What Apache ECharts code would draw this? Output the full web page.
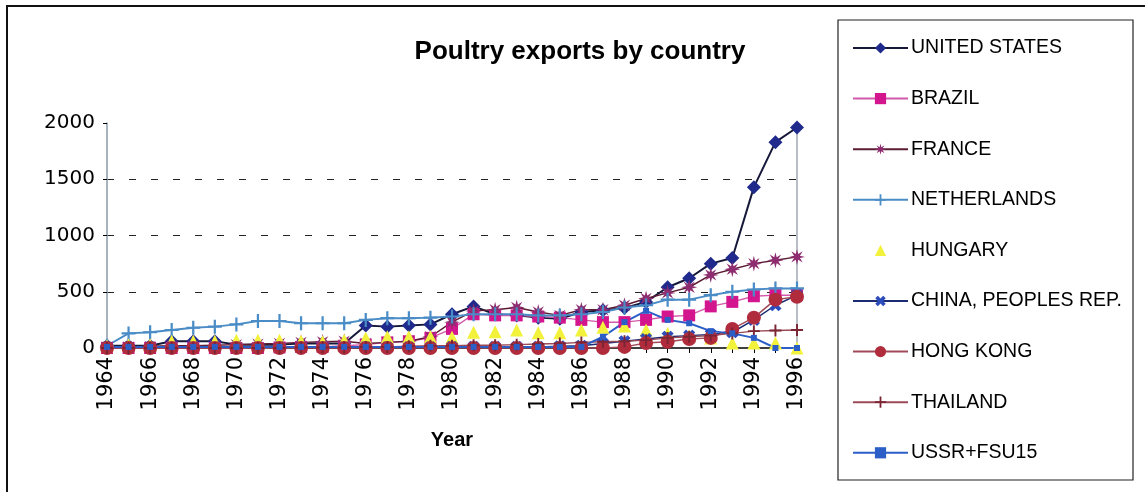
<!DOCTYPE html>
<html>
<head>
<meta charset="utf-8">
<script src="https://cdn.jsdelivr.net/npm/echarts@6/dist/echarts.min.js"></script>
<style>
  html, body { margin: 0; padding: 0; background: #fff; }
  #chart { width: 1145px; height: 492px; }
</style>
</head>
<body>
<div id="chart"></div>
<script>
// Years on the category axis (every year ticked, every other year labelled)
const years = ['1964','1965','1966','1967','1968','1969','1970','1971','1972','1973','1974',
  '1975','1976','1977','1978','1979','1980','1981','1982','1983','1984','1985',
  '1986','1987','1988','1989','1990','1991','1992','1993','1994','1995','1996'];

// Poultry exports per country, 1964-1996
const unitedStates = [20,20,20,60,60,60,30,30,30,40,40,40,200,190,200,210,300,370,300,290,270,260,320,335,355,410,540,620,750,800,1430,1830,1960];
const brazil       = [0,0,0,0,0,0,0,0,5,10,10,20,30,50,60,90,170,300,290,290,280,270,250,230,230,250,280,290,370,410,460,470,470];
const france       = [10,10,15,20,20,25,30,35,40,50,55,60,40,50,60,100,230,330,340,360,320,290,340,340,380,440,490,540,650,700,750,780,810];
const netherlands  = [20,130,140,160,180,190,210,240,240,220,220,220,250,265,265,270,280,300,300,300,290,290,300,320,360,380,430,430,470,500,520,530,530];
const hungary      = [20,30,30,60,60,60,70,70,70,60,55,70,90,100,100,100,95,140,145,160,135,135,160,185,195,160,130,110,90,45,45,45,0];
const china        = [5,5,5,5,5,5,5,5,5,5,5,5,5,5,5,5,10,10,10,10,10,15,20,40,60,80,100,110,120,140,250,380,470];
const hongKong     = [0,0,0,0,0,0,0,0,0,0,0,0,0,0,0,0,0,0,0,0,0,0,0,0,10,45,55,80,90,170,270,430,455];
const thailand     = [0,0,0,0,0,0,0,0,0,5,5,5,10,10,15,20,20,25,25,30,35,40,50,55,60,70,90,100,110,130,150,155,160];
const ussrFsu      = [10,10,10,10,10,10,10,10,10,10,10,10,10,10,10,10,10,10,10,10,10,10,10,100,230,330,250,220,150,130,90,0,0];

const yTicks = { min: 0, max: 2000, step: 500 };

// marker shapes
function starPath(points, outer, inner) {
  let d = '';
  for (let i = 0; i < points * 2; i++) {
    const a = i * Math.PI / points - Math.PI / 2;
    const r = i % 2 ? inner : outer;
    d += (i ? 'L' : 'M') + (10 + r * Math.cos(a)).toFixed(2) + ',' + (10 + r * Math.sin(a)).toFixed(2);
  }
  return 'path://' + d + 'Z';
}
const asterisk = starPath(8, 10, 4);
const thinPlus = 'path://M4.2,0H5.8V4.2H10V5.8H5.8V10H4.2V5.8H0V4.2H4.2Z';
const thickPlus = 'path://M3.4,0H6.6V3.4H10V6.6H6.6V10H3.4V6.6H0V3.4H3.4Z';

function lineSeries(name, data, opts) {
  return Object.assign({
    name: name,
    type: 'line',
    data: data,
    showSymbol: true,
    showAllSymbol: true,
    animation: false
  }, opts);
}

const series = [
  lineSeries('UNITED STATES', unitedStates, {
    symbol: 'diamond', symbolSize: 14,
    itemStyle: { color: '#1f2a8c' },
    lineStyle: { color: '#16183a', width: 2 }
  }),
  lineSeries('BRAZIL', brazil, {
    symbol: 'rect', symbolSize: 12,
    itemStyle: { color: '#d4168e' },
    lineStyle: { color: '#d25aaa', width: 1.5 }
  }),
  lineSeries('FRANCE', france, {
    symbol: asterisk, symbolSize: 16,
    itemStyle: { color: '#8e2c70' },
    lineStyle: { color: '#5c1c34', width: 1.5 }
  }),
  lineSeries('NETHERLANDS', netherlands, {
    symbol: thinPlus, symbolSize: 14,
    itemStyle: { color: '#4a8cc6' },
    lineStyle: { color: '#4a8cc6', width: 2 }
  }),
  lineSeries('HUNGARY', hungary, {
    symbol: 'triangle', symbolSize: 13,
    itemStyle: { color: '#f2f23c' },
    lineStyle: { opacity: 0, width: 0 }
  }),
  lineSeries('CHINA, PEOPLES REP.', china, {
    symbol: thickPlus, symbolSize: 13, symbolRotate: 45,
    itemStyle: { color: '#2c4cbc' },
    lineStyle: { color: '#1c2c72', width: 1.5 }
  }),
  lineSeries('HONG KONG', hongKong, {
    symbol: 'circle', symbolSize: 14,
    itemStyle: { color: '#b02c3c' },
    lineStyle: { color: '#a04a5a', width: 1.5 }
  }),
  lineSeries('THAILAND', thailand, {
    symbol: thinPlus, symbolSize: 12,
    itemStyle: { color: '#7a2434' },
    lineStyle: { color: '#9a4a58', width: 1.5 }
  }),
  lineSeries('USSR+FSU15', ussrFsu, {
    symbol: 'rect', symbolSize: 6,
    itemStyle: { color: '#2c5ec8' },
    lineStyle: { color: '#2c5ec8', width: 2 }
  })
];

const chart = echarts.init(document.getElementById('chart'), null, { renderer: 'canvas' });
chart.setOption({
  backgroundColor: '#fff',
  animation: false,
  grid: { left: 107, right: 348, top: 123, bottom: 144, containLabel: false },
  legend: {
    orient: 'vertical',
    left: 847,
    top: 33,
    itemWidth: 55,
    itemHeight: 14,
    itemGap: 30.6,
    textStyle: { fontFamily: 'Liberation Sans', fontSize: 19.5, color: '#000', padding: [0, 0, 0, -2] },
    data: series.map(s => s.name)
  },
  xAxis: {
    type: 'category',
    data: years,
    boundaryGap: false,
    axisLine: { lineStyle: { color: '#000', width: 1.5 } },
    axisTick: { show: true, interval: 0, length: 5, lineStyle: { color: '#000' } },
    axisLabel: {
      interval: 1, rotate: 90, margin: 9,
      fontFamily: 'DejaVu Sans', fontSize: 21, color: '#000'
    },
    name: 'Year',
    nameLocation: 'middle',
    nameGap: 82,
    nameTextStyle: { fontFamily: 'Liberation Sans', fontWeight: 'bold', fontSize: 20, color: '#000' }
  },
  yAxis: [{
    type: 'value',
    min: yTicks.min, max: yTicks.max, interval: yTicks.step,
    axisLine: { show: true, lineStyle: { color: '#8a9aaa', width: 1.5 } },
    axisTick: { show: true, length: 4, lineStyle: { color: '#000' } },
    axisLabel: { margin: 12, fontFamily: 'DejaVu Sans', fontSize: 20, color: '#000',
      formatter: v => String(v) },
    splitLine: {
      show: true, showMinLine: false, showMaxLine: false,
      lineStyle: { color: '#222', type: [7, 15], width: 1.2 }
    }
  }, {
    type: 'value',
    position: 'right',
    min: yTicks.min, max: yTicks.max, interval: yTicks.step,
    axisLine: { show: true, lineStyle: { color: '#a0a8b0', width: 1.5 } },
    axisTick: { show: false },
    axisLabel: { show: false },
    splitLine: { show: false }
  }],
  graphic: [
    { type: 'text', x: 580, y: 52,
      style: { text: 'Poultry exports by country', fill: '#000',
        font: 'bold 26px "Liberation Sans"', textAlign: 'center', textVerticalAlign: 'middle' } },
    // outer frame (top and left edges)
    { type: 'polyline', shape: { points: [[7, 492], [7, 6], [1145, 6]] },
      style: { stroke: '#111', lineWidth: 2, fill: null } },
    // legend box
    { type: 'rect', shape: { x: 838, y: 20, width: 295, height: 460 },
      style: { stroke: '#222', lineWidth: 1.2, fill: null } }
  ],
  series: series
});
</script>
</body>
</html>
